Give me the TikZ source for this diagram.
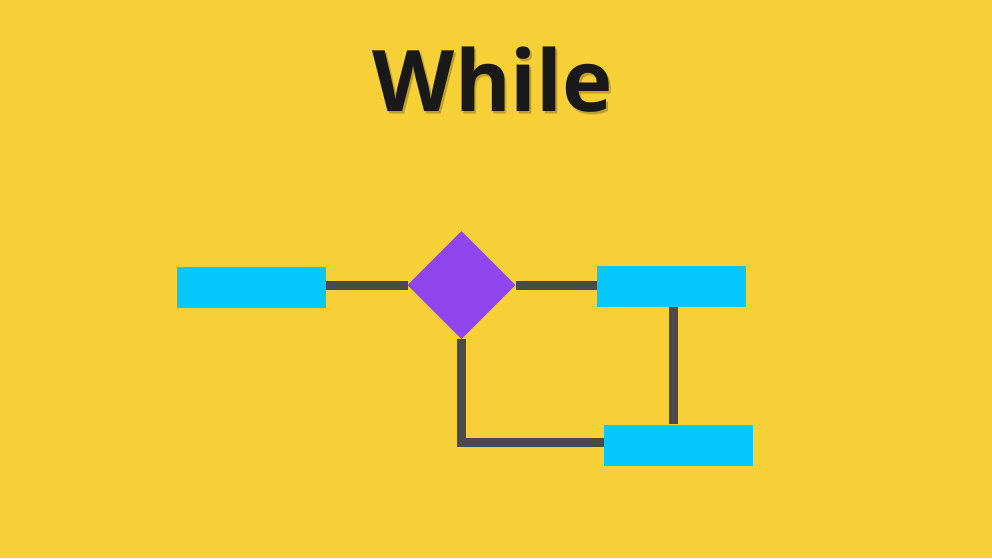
\documentclass[tikz,border=0pt]{standalone}
\usepackage{fontspec}
\setmainfont{Open Sans}
\definecolor{bg}{HTML}{F7D038}
\definecolor{boxblue}{HTML}{05C8FE}
\definecolor{diapurple}{HTML}{9045EF}
\definecolor{linegray}{HTML}{4A4A4A}
\begin{document}
\begin{tikzpicture}[x=1pt,y=-1pt,
  blockbox/.style={fill=boxblue,draw=none,minimum width=149pt,minimum height=41pt,inner sep=0pt},
  conn/.style={draw=linegray,line width=9pt},
  titletext/.style={font=\fontsize{85}{90}\selectfont\bfseries,anchor=base}]
\fill[bg] (0,0) rectangle (992,558);
\useasboundingbox (0,0) rectangle (992,558);
\node[titletext,text=black,opacity=0.12] (shadowa) at (495,114.5) {While};
\node[titletext,text=black,opacity=0.12] (shadowb) at (494.5,113.5) {While};
\node[titletext,text=black!90] (title) at (493,111.5) {While};
\node[blockbox] (left) at (251.5,287.5) {};
\node[blockbox] (rtop) at (671.5,286.5) {};
\node[blockbox] (rbot) at (678.5,445) {};
\path (461.5,231) coordinate (dtop) (515.5,285) coordinate (dright)
      (461.5,339) coordinate (dbot) (407.5,285) coordinate (dleft);
\coordinate (lc) at (461.5,442);
\coordinate (vtop) at (673,307);
\coordinate (vbot) at (673,424);
\draw[conn] (dleft -| left.east) -- (dleft);
\draw[conn] (dright) -- (dright -| rtop.west);
\draw[conn] (vtop) -- (vbot);
\draw[conn] (dbot) -- (lc) -- (lc -| rbot.west);
\fill[diapurple] (dtop) -- (dright) -- (dbot) -- (dleft) -- cycle;
\node[blockbox] at (left) {};
\node[blockbox] at (rtop) {};
\node[blockbox] at (rbot) {};
\end{tikzpicture}
\end{document}
